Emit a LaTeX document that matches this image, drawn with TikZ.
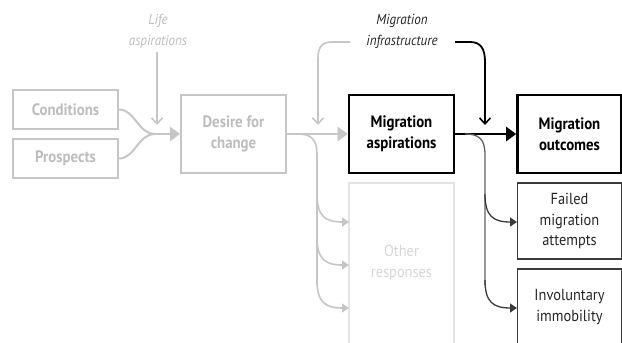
\documentclass[tikz,border=0pt]{standalone}
\usepackage{fontspec}
\setmainfont{PT Sans}[FakeStretch=0.9]
\usetikzlibrary{arrows.meta}
\definecolor{lg}{HTML}{C6C6C6}
\definecolor{lgt}{HTML}{BDBDBD}
\definecolor{vlg}{HTML}{E4E4E4}
\definecolor{vlgt}{HTML}{D6D6D6}
\definecolor{dg}{HTML}{3A3A3A}
\tikzset{
  box/.style={draw, rectangle, inner sep=0pt, align=center, font=\fontsize{16}{20.5}\selectfont},
  graybox/.style={box, draw=lg, line width=2pt, text=lgt, font=\fontsize{16.5}{21}\selectfont\bfseries},
  blackbox/.style={box, draw=black, line width=2.6pt, text=black, font=\fontsize{16.5}{21}\selectfont\bfseries},
  thinbox/.style={box, draw=dg, line width=1.3pt, text=black!85},
  faintbox/.style={box, draw=vlg, line width=1.5pt, text=vlgt},
  lbl/.style={align=center, inner sep=0pt, font=\fontsize{14.5}{21}\selectfont\itshape},
  gline/.style={draw=lg, line width=2.4pt},
  bline/.style={draw=black, line width=2.8pt},
  vhead/.style={-{Straight Barb[length=6pt,width=11pt,line width=1.6pt]}},
  thead/.style={-{Triangle[length=10pt,width=14pt]}},
  shead/.style={-{Triangle[length=7pt,width=9pt]}},
}
\begin{document}
\begin{tikzpicture}[x=1pt,y=-1pt]
\useasboundingbox[fill=white] (0,0) rectangle (622,343);
\begin{scope}
\clip (0,0) rectangle (622,343);
% boxes
\node[graybox, minimum width=105pt, minimum height=39pt] (cond) at (65.5,109.5) {Conditions};
\node[graybox, minimum width=105pt, minimum height=39pt] (pros) at (65.5,158.5) {Prospects};
\node[graybox, minimum width=105pt, minimum height=78pt] (des) at (233.5,134) {Desire for\\change};
\node[blackbox, minimum width=105pt, minimum height=78pt] (masp) at (401.5,134) {Migration\\aspirations};
\node[blackbox, minimum width=104pt, minimum height=78pt] (mout) at (569.5,134) {Migration\\outcomes};
\draw[vlg, line width=1.5pt] (349,360) -- (349,183) -- (454,183) -- (454,360);
\node[faintbox, draw=none, minimum width=105pt, minimum height=40pt] (oth) at (401.5,263) {Other\\responses};
\node[thinbox, minimum width=104pt, minimum height=76pt] (fail) at (569.5,221) {Failed\\migration\\attempts};
\draw[dg, line width=1.3pt] (517.5,360) -- (517.5,269) -- (621.5,269) -- (621.5,360);
\node[box, draw=none, text=black!85, minimum width=104pt, minimum height=40pt] (inv) at (569.5,307) {Involuntary\\immobility};
% labels
\node[lbl, text=lgt] (life) at (158,31) {Life\\aspirations};
\node[lbl, text=black!85] (infra) at (402,31) {Migration\\infrastructure};
\coordinate (m1) at (155,134);
\coordinate (lifeend) at (157,125);
% gray part
\draw[gline, line width=2pt] (cond.east) .. controls (135,109.5) and (138,134) .. (m1);
\draw[gline, line width=2pt] (pros.east) .. controls (135,158.5) and (138,134) .. (m1);
\draw[gline, thead, color=lg] (m1) -- (des.west);
\draw[lg, line width=1.6pt, vhead] (157,52) -- (lifeend);
\draw[gline, thead, color=lg] (des.east) -- (masp.west);
\draw[lg, line width=1.6pt] (298,134) .. controls (312,134) and (317,140) .. (317,155) -- (317,285);
\foreach \yy/\nm in {222/a,265/b,308/c}{
  \coordinate (o\nm) at (349,\yy);
  \draw[lg, line width=1.6pt, shead] (317,\yy-28) .. controls (317,\yy-6) and (325,\yy) .. (o\nm);
}
\draw[lg, line width=1.6pt, vhead] (350,42) -- (332,42) .. controls (322,42) and (318,47) .. (318,58) -- (318,125);
% black part
\draw[bline, thead] (masp.east) -- (mout.west);
\draw[black, line width=1.8pt, vhead] (455,42) -- (470,42) .. controls (481,42) and (485,49) .. (485,62) -- (485,125);
\draw[dg!80, line width=1.3pt] (465,134) .. controls (480,134) and (485,140) .. (485,155) -- (485,285);
\coordinate (fa) at (517,222);
\coordinate (ia) at (517,308);
\draw[dg, line width=1.3pt, shead] (485,194) .. controls (485,216) and (493,222) .. (fa);
\draw[dg, line width=1.3pt, shead] (485,280) .. controls (485,302) and (493,308) .. (ia);
\end{scope}
\end{tikzpicture}
\end{document}
